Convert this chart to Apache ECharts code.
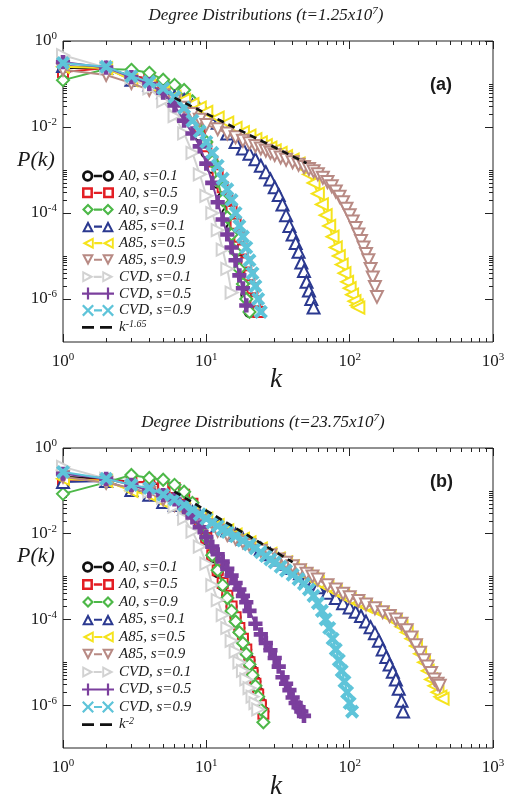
<!DOCTYPE html>
<html><head><meta charset="utf-8">
<script src="https://cdn.jsdelivr.net/npm/echarts@6/dist/echarts.min.js"></script>
<style>html,body{margin:0;padding:0;background:#fff}#c{width:510px;height:797px}</style>
</head><body><div id="c"></div>
<script>
// ---------- tick values ----------
const xMajorTicks = [1, 10, 100, 1000];
const xMinorTicks = [2,3,4,5,6,7,8,9,20,30,40,50,60,70,80,90,200,300,400,500,600,700,800,900];
const yMajorTicks = [1e-6, 1e-4, 1e-2, 1];
const yMinorTicks = [2e-6,3e-6,4e-6,5e-6,6e-6,7e-6,8e-6,9e-6,1e-5,2e-4,3e-4,4e-4,5e-4,6e-4,7e-4,8e-4,9e-4,1e-3,2e-2,3e-2,4e-2,5e-2,6e-2,7e-2,8e-2,9e-2,1e-1];

// ---------- legend names ----------
const seriesNames = ['A0, s=0.1','A0, s=0.5','A0, s=0.9','A85, s=0.1','A85, s=0.5','A85, s=0.9','CVD, s=0.1','CVD, s=0.5','CVD, s=0.9'];

// ---------- panel (a): t = 1.25x10^7 ----------
// integer-k series (k = 1, 2, 3, ...)
const pA_A0_01 = [2.34e-1,2.34e-1,1.51e-1,1.32e-1,1e-1,7.08e-2,3.98e-2,1.78e-2,6.31e-3,2.51e-3,1.12e-3,5.01e-4,2.24e-4,1e-4,4.47e-5,2.0e-5,7.94e-6,3.16e-6,1.26e-6,5.01e-7];
const pA_A0_05 = [1.91e-1,2.34e-1,1.51e-1,1.32e-1,1e-1,7.08e-2,4.47e-2,2.24e-2,8.91e-3,3.55e-3,1.58e-3,7.94e-4,3.98e-4,2.0e-4,1.12e-4,5.62e-5,2.82e-5,1.41e-5,7.08e-6,3.55e-6,1.78e-6,8.91e-7,5.01e-7];
const pA_A0_09 = [1.23e-1,2.24e-1,2.14e-1,1.82e-1,1.26e-1,9.55e-2,7.24e-2,3.98e-2,1.41e-2,4.47e-3,1.58e-3,5.62e-4,2.0e-4,7.94e-5,3.16e-5,1.26e-5,5.01e-6,2.24e-6,1e-6,5.01e-7];
const pA_CVD_01 = [4.68e-1,2.40e-1,1.41e-1,7.94e-2,3.98e-2,1.78e-2,7.08e-3,2.51e-3,7.94e-4,2.51e-4,1e-4,3.98e-5,1.41e-5,5.01e-6,1.41e-6];
const pA_CVD_05 = [3.24e-1,2.40e-1,1.45e-1,1e-1,6.31e-2,3.16e-2,1.41e-2,7.08e-3,3.55e-3,1.41e-3,5.01e-4,1.78e-4,7.08e-5,3.16e-5,1.58e-5,7.94e-6,3.55e-6,1.78e-6,7.08e-7];
const pA_CVD_09 = [3.09e-1,2.51e-1,1.51e-1,1.12e-1,7.94e-2,5.01e-2,2.82e-2,1.41e-2,7.94e-3,4.47e-3,2.51e-3,1.26e-3,6.31e-4,3.55e-4,2.0e-4,1e-4,5.01e-5,2.82e-5,1.58e-5,7.94e-6,3.98e-6,2.0e-6,1e-6,5.01e-7];
// sampled-k series
const kA_A85_01 = [1,2,3,4,5,6,7,8,9,10,12,14,16,18,20,22,24,26,28,30,32,34,36,38,40,42,44,46,48,50,52,54,56];
const pA_A85_01 = [2.63e-1,2.34e-1,1.26e-1,9.55e-2,6.46e-2,5.01e-2,4.27e-2,3.16e-2,2.51e-2,2.0e-2,1.26e-2,7.08e-3,4.47e-3,3.16e-3,2.40e-3,1.78e-3,1.26e-3,8.91e-4,6.03e-4,3.98e-4,2.63e-4,1.58e-4,8.91e-5,5.01e-5,3.16e-5,2.0e-5,1.26e-5,7.08e-6,4.47e-6,2.51e-6,1.58e-6,1e-6,6.31e-7];
const kA_A85_05 = [1,2,3,4,5,6,7,8,9,10,12,14,16,18,20,22,24,26,28,30,33,36,40,44,48,52,56,60,64,68,72,76,80,84,88,92,96,100,104,108,112,115];
const pA_A85_05 = [2.51e-1,2.34e-1,1.23e-1,9.55e-2,6.46e-2,5.01e-2,4.27e-2,3.39e-2,2.82e-2,2.24e-2,1.66e-2,1.26e-2,9.55e-3,7.59e-3,6.31e-3,5.25e-3,4.37e-3,3.80e-3,3.31e-3,2.88e-3,2.51e-3,2.09e-3,1.74e-3,1.41e-3,1.10e-3,7.94e-4,5.01e-4,2.82e-4,1.58e-4,8.91e-5,5.01e-5,2.82e-5,1.58e-5,1e-5,6.31e-6,3.98e-6,2.51e-6,1.78e-6,1.26e-6,8.91e-7,7.08e-7,6.31e-7];
const kA_A85_09 = [1,2,3,4,5,6,7,8,9,10,12,14,16,18,20,22,24,26,28,30,33,36,40,44,48,52,56,60,65,70,75,80,85,90,95,100,105,110,115,120,125,130,135,140,145,150,155];
const pA_A85_09 = [2.14e-1,1.62e-1,1.05e-1,7.24e-2,5.50e-2,3.98e-2,2.82e-2,2.0e-2,1.48e-2,1.12e-2,8.91e-3,7.08e-3,5.75e-3,4.79e-3,4.17e-3,3.63e-3,3.16e-3,2.82e-3,2.51e-3,2.24e-3,1.95e-3,1.74e-3,1.51e-3,1.32e-3,1.17e-3,1.05e-3,9.33e-4,7.94e-4,6.61e-4,5.25e-4,4.17e-4,3.16e-4,2.40e-4,1.78e-4,1.26e-4,8.91e-5,6.31e-5,4.47e-5,3.16e-5,2.24e-5,1.58e-5,1.12e-5,7.94e-6,5.01e-6,3.16e-6,1.91e-6,1.12e-6];
const kA_fit = [6, 50];
const pA_fit = [4.76e-2, 1.44e-3];

// ---------- panel (b): t = 23.75x10^7 ----------
const pB_A0_01 = [2.14e-1,1.91e-1,1.62e-1,1.58e-1,1.32e-1,1.12e-1,7.94e-2,4.47e-2,1.78e-2,7.08e-3,2.82e-3,1.26e-3,6.31e-4,3.55e-4,2.0e-4,1.12e-4,6.31e-5,3.55e-5,2.0e-5,1.12e-5,6.31e-6,3.55e-6,2.0e-6,1.12e-6,7.08e-7];
const pB_A0_05 = [1.82e-1,1.82e-1,1.62e-1,1.62e-1,1.38e-1,1.17e-1,8.13e-2,5.01e-2,2.0e-2,7.94e-3,3.16e-3,1.41e-3,7.08e-4,3.55e-4,2.0e-4,1.12e-4,6.31e-5,3.55e-5,2.0e-5,1e-5,5.62e-6,3.16e-6,1.78e-6,1e-6,6.31e-7];
const pB_A0_09 = [8.51e-2,1.58e-1,2.34e-1,2.0e-1,1.82e-1,1.38e-1,9.55e-2,5.25e-2,2.0e-2,7.94e-3,3.16e-3,1.41e-3,6.31e-4,3.16e-4,1.58e-4,8.91e-5,5.01e-5,2.82e-5,1.58e-5,8.91e-6,5.01e-6,2.82e-6,1.58e-6,7.94e-7,3.98e-7];
const pB_CVD_01 = [3.63e-1,1.91e-1,1.38e-1,9.55e-2,6.92e-2,4.27e-2,2.24e-2,1.12e-2,5.01e-3,2.0e-3,6.31e-4,2.82e-4,1.26e-4,6.31e-5,3.16e-5,1.78e-5,1e-5,6.31e-6,3.98e-6,2.51e-6,1.58e-6,1.12e-6,7.94e-7];
const kB_A85_01 = [1,2,3,4,5,6,7,8,9,10,12,14,16,18,20,24,28,32,36,40,45,50,55,60,70,80,90,100,110,120,130,140,150,160,170,180,190,200,210,220,230,236];
const pB_A85_01 = [1.62e-1,1.70e-1,1.05e-1,8.13e-2,5.50e-2,4.68e-2,3.80e-2,3.16e-2,2.63e-2,2.24e-2,1.58e-2,1.20e-2,9.55e-3,7.59e-3,6.31e-3,4.47e-3,3.31e-3,2.51e-3,2.0e-3,1.58e-3,1.20e-3,8.91e-4,6.76e-4,5.62e-4,4.17e-4,3.16e-4,2.40e-4,1.91e-4,1.51e-4,1.20e-4,8.91e-5,6.61e-5,4.79e-5,3.16e-5,2.0e-5,1.32e-5,8.91e-6,6.03e-6,3.98e-6,2.40e-6,1.26e-6,7.08e-7];
const kB_A85_05 = [1,2,3,4,5,6,7,8,9,10,12,14,16,18,20,24,28,32,36,40,45,50,55,60,70,80,90,100,115,130,150,170,190,210,230,250,270,290,310,330,350,370,390,410,430,445];
const pB_A85_05 = [1.91e-1,1.70e-1,1e-1,8.13e-2,5.50e-2,4.68e-2,3.80e-2,3.16e-2,2.63e-2,2.24e-2,1.58e-2,1.20e-2,9.55e-3,7.59e-3,6.31e-3,4.47e-3,3.39e-3,2.63e-3,2.14e-3,1.74e-3,1.35e-3,1.07e-3,8.71e-4,7.41e-4,5.62e-4,4.47e-4,3.55e-4,2.95e-4,2.40e-4,2.0e-4,1.66e-4,1.38e-4,1.12e-4,8.91e-5,6.76e-5,5.01e-5,3.55e-5,2.40e-5,1.58e-5,1e-5,6.31e-6,3.98e-6,2.82e-6,2.0e-6,1.58e-6,1.41e-6];
const kB_A85_09 = [1,2,3,4,5,6,7,8,9,10,12,14,16,18,20,24,28,32,36,40,45,50,55,60,70,80,90,100,115,130,150,170,190,210,230,250,270,290,310,330,350,370,390,410,425];
const pB_A85_09 = [2.14e-1,1.55e-1,1.17e-1,8.91e-2,6.31e-2,4.68e-2,3.55e-2,2.63e-2,2.0e-2,1.58e-2,1.17e-2,9.33e-3,7.59e-3,6.31e-3,5.37e-3,3.98e-3,3.16e-3,2.51e-3,2.09e-3,1.74e-3,1.41e-3,1.17e-3,1e-3,8.51e-4,6.31e-4,5.01e-4,3.98e-4,3.31e-4,2.69e-4,2.24e-4,1.82e-4,1.48e-4,1.20e-4,1e-4,7.94e-5,5.62e-5,3.80e-5,2.51e-5,1.66e-5,1.12e-5,7.94e-6,5.62e-6,3.98e-6,3.16e-6,2.82e-6];
const kB_CVD_05 = [1,2,3,4,5,6,7,8,9,10,11,12,13,14,15,16,17,18,19,20,22,24,26,28,30,32,34,36,38,40,42,44,46,48];
const pB_CVD_05 = [2.51e-1,1.91e-1,1.38e-1,1e-1,7.94e-2,6.31e-2,4.17e-2,2.40e-2,1.41e-2,8.32e-3,5.01e-3,3.31e-3,2.24e-3,1.51e-3,1.05e-3,7.08e-4,5.01e-4,3.55e-4,2.51e-4,1.58e-4,7.94e-5,4.47e-5,2.82e-5,1.91e-5,1.26e-5,7.94e-6,4.47e-6,3.16e-6,2.24e-6,1.51e-6,1.12e-6,8.91e-7,7.08e-7,5.62e-7];
const kB_CVD_09 = [1,2,3,4,5,6,7,8,9,10,11,12,13,14,16,18,20,22,24,26,28,30,33,36,40,44,48,52,56,60,64,68,72,76,80,84,88,92,96,100,104];
const pB_CVD_09 = [2.75e-1,1.91e-1,1.38e-1,1.17e-1,8.13e-2,6.31e-2,4.68e-2,3.63e-2,2.82e-2,2.24e-2,1.82e-2,1.51e-2,1.26e-2,1.10e-2,8.71e-3,6.92e-3,5.62e-3,4.57e-3,3.72e-3,3.02e-3,2.51e-3,2.14e-3,1.70e-3,1.38e-3,1.10e-3,8.71e-4,6.76e-4,5.01e-4,3.55e-4,2.40e-4,1.58e-4,1e-4,6.31e-5,3.55e-5,2.0e-5,1.12e-5,6.31e-6,3.55e-6,2.0e-6,1.12e-6,7.08e-7];
const kB_fit = [6, 40];
const pB_fit = [9.6e-2, 2.17e-3];

// ---------- styles ----------
const PLUS = 'path://M4,0H6V4H10V6H6V10H4V6H0V4H4Z';
const CROSS = 'path://M1.2,0L5,3.8L8.8,0L10,1.2L6.2,5L10,8.8L8.8,10L5,6.2L1.2,10L0,8.8L3.8,5L0,1.2Z';
const looks = [
  {color:'#111111', symbol:'emptyCircle', size:10, rot:0, icon:'circle'},
  {color:'#e31e24', symbol:'emptyRect', size:10, rot:0, icon:'rect'},
  {color:'#4db848', symbol:'emptyDiamond', size:12, rot:0, icon:'diamond'},
  {color:'#2b3990', symbol:'emptyTriangle', size:12, rot:0, icon:'triUp'},
  {color:'#f5e31c', symbol:'emptyTriangle', size:12, rot:90, icon:'triLeft'},
  {color:'#b88a84', symbol:'emptyTriangle', size:12, rot:180, icon:'triDown'},
  {color:'#d2d2d2', symbol:'emptyTriangle', size:12, rot:-90, icon:'triRight'},
  {color:'#7b3f9d', symbol:PLUS, size:12, rot:0, icon:'plus'},
  {color:'#5ec4d9', symbol:CROSS, size:11, rot:0, icon:'cross'}
];
const serif = '"Liberation Serif", "DejaVu Serif", serif';

// legend icon: line with a hollow marker at both ends (12x12 marker boxes in a 32x12 icon)
const iconShapes = {
  circle:   o => `M${o+0.5},6 A5.5,5.5 0 1 1 ${o+11.5},6 A5.5,5.5 0 1 1 ${o+0.5},6 Z M${o+3.2},6 A2.8,2.8 0 1 0 ${o+8.8},6 A2.8,2.8 0 1 0 ${o+3.2},6 Z`,
  rect:     o => `M${o+0.8},0.8 H${o+11.2} V11.2 H${o+0.8} Z M${o+3.2},3.2 V8.8 H${o+8.8} V3.2 Z`,
  diamond:  o => `M${o+6},0 L${o+12},6 L${o+6},12 L${o},6 Z M${o+6},3 L${o+3},6 L${o+6},9 L${o+9},6 Z`,
  triUp:    o => `M${o+6},0 L${o+12},11.5 L${o},11.5 Z M${o+6},4.6 L${o+3.3},9.6 L${o+8.7},9.6 Z`,
  triLeft:  o => `M${o},6 L${o+11.5},0 L${o+11.5},12 Z M${o+4.6},6 L${o+9.6},8.7 L${o+9.6},3.3 Z`,
  triDown:  o => `M${o},0.5 L${o+12},0.5 L${o+6},12 Z M${o+3.3},2.4 L${o+6},7.4 L${o+8.7},2.4 Z`,
  triRight: o => `M${o+0.5},0 L${o+12},6 L${o+0.5},12 Z M${o+2.4},3.3 L${o+2.4},8.7 L${o+7.4},6 Z`,
  plus:     o => `M${o+4.9},0 H${o+7.1} V4.9 H${o+12} V7.1 H${o+7.1} V12 H${o+4.9} V7.1 H${o} V4.9 H${o+4.9} Z`,
  cross:    o => `M${o+1.6},0 L${o+6},4.4 L${o+10.4},0 L${o+12},1.6 L${o+7.6},6 L${o+12},10.4 L${o+10.4},12 L${o+6},7.6 L${o+1.6},12 L${o},10.4 L${o+4.4},6 L${o},1.6 Z`
};
function legendIcon(shape){
  return 'path://' + iconShapes[shape](0) + ' ' + iconShapes[shape](20) + ' M12,4.9 H20 V7.1 H12 Z';
}
const DASH_ICON = 'path://M0,0 L0,0 M0,4.7 H12 V7.5 H0 Z M18,4.7 H30 V7.5 H18 Z M32,12 L32,12';

function seq(n){ const a=[]; for(let i=1;i<=n;i++) a.push(i); return a; }
function zip(ks, ps){ return ks.map((k,i)=>[k, ps[i]]); }

const panelData = {
  a: [zip(seq(pA_A0_01.length),pA_A0_01), zip(seq(pA_A0_05.length),pA_A0_05), zip(seq(pA_A0_09.length),pA_A0_09),
      zip(kA_A85_01,pA_A85_01), zip(kA_A85_05,pA_A85_05), zip(kA_A85_09,pA_A85_09),
      zip(seq(pA_CVD_01.length),pA_CVD_01), zip(seq(pA_CVD_05.length),pA_CVD_05), zip(seq(pA_CVD_09.length),pA_CVD_09)],
  b: [zip(seq(pB_A0_01.length),pB_A0_01), zip(seq(pB_A0_05.length),pB_A0_05), zip(seq(pB_A0_09.length),pB_A0_09),
      zip(kB_A85_01,pB_A85_01), zip(kB_A85_05,pB_A85_05), zip(kB_A85_09,pB_A85_09),
      zip(seq(pB_CVD_01.length),pB_CVD_01), zip(kB_CVD_05,pB_CVD_05), zip(kB_CVD_09,pB_CVD_09)]
};
const fitData = { a: zip(kA_fit,pA_fit), b: zip(kB_fit,pB_fit) };
const fitLabel = { a: '-1.65', b: '-2' };

const series = [];
const legendItems = {a: [], b: []};
['a','b'].forEach((p, gi) => {
  panelData[p].forEach((d, i) => {
    const L = looks[i];
    const name = p + '|' + seriesNames[i];
    series.push({
      type:'line', name: name, xAxisIndex: gi*4, yAxisIndex: gi*4,
      data: d, symbol: L.symbol, symbolSize: L.size, symbolRotate: L.rot, showAllSymbol: true,
      lineStyle: {color: L.color, width: 2},
      itemStyle: {color: L.color, borderColor: L.color, borderWidth: 2.2},
      animation: false, z: 2 + i * 0.01
    });
    legendItems[p].push({name: name, icon: legendIcon(L.icon), itemStyle: {color: L.color, borderWidth: 0, opacity: 1}});
  });
  series.push({
    type:'line', name: p + '|fit', xAxisIndex: gi*4, yAxisIndex: gi*4, data: fitData[p],
    symbol:'none', lineStyle:{color:'#111', width:2.6, type:[7,5]}, itemStyle:{color:'#111'},
    animation:false, z: 3
  });
  legendItems[p].push({name: p + '|fit', icon: DASH_ICON, itemStyle: {color:'#111', borderWidth: 0, opacity: 1}});
});

const grids = [
  {left:63, top:41, width:430, height:301},
  {left:63, top:448, width:430, height:300}
];

const supRich = {
  b:{fontFamily:serif, fontSize:17, color:'#1a1a1a', lineHeight:20},
  s:{fontFamily:serif, fontSize:11, color:'#1a1a1a', verticalAlign:'top', lineHeight:12}
};
function powLabel(v){ const e = Math.round(Math.log10(v)); return '{b|10}{s|' + e + '}'; }

const xAxes = [], yAxes = [];
[0,1].forEach(gi => {
  const base = {type:'log', logBase:10, gridIndex:gi, min:1, max:1000, splitLine:{show:false}, axisLine:{show:false}};
  xAxes.push(Object.assign({}, base, {position:'bottom',
    axisTick:{show:true, inside:true, length:8, customValues:xMajorTicks, lineStyle:{color:'#222'}},
    axisLabel:{show:true, customValues:xMajorTicks, margin:10, formatter:powLabel, rich:supRich}}));
  xAxes.push(Object.assign({}, base, {position:'top',
    axisTick:{show:true, inside:true, length:8, customValues:xMajorTicks, lineStyle:{color:'#222'}}, axisLabel:{show:false}}));
  xAxes.push(Object.assign({}, base, {position:'bottom',
    axisTick:{show:true, inside:true, length:4, customValues:xMinorTicks, lineStyle:{color:'#222'}}, axisLabel:{show:false}}));
  xAxes.push(Object.assign({}, base, {position:'top',
    axisTick:{show:true, inside:true, length:4, customValues:xMinorTicks, lineStyle:{color:'#222'}}, axisLabel:{show:false}}));
  const ybase = {type:'log', logBase:10, gridIndex:gi, min:1e-7, max:1, splitLine:{show:false}, axisLine:{show:false}};
  yAxes.push(Object.assign({}, ybase, {position:'left',
    axisTick:{show:true, inside:true, length:8, customValues:yMajorTicks, lineStyle:{color:'#222'}},
    axisLabel:{show:true, customValues:yMajorTicks, margin:6, formatter:powLabel, rich:supRich}}));
  yAxes.push(Object.assign({}, ybase, {position:'right',
    axisTick:{show:true, inside:true, length:8, customValues:yMajorTicks, lineStyle:{color:'#222'}}, axisLabel:{show:false}}));
  yAxes.push(Object.assign({}, ybase, {position:'left',
    axisTick:{show:true, inside:true, length:4, customValues:yMinorTicks, lineStyle:{color:'#222'}}, axisLabel:{show:false}}));
  yAxes.push(Object.assign({}, ybase, {position:'right',
    axisTick:{show:true, inside:true, length:4, customValues:yMinorTicks, lineStyle:{color:'#222'}}, axisLabel:{show:false}}));
});

const legendRich = {
  k:{fontFamily:serif, fontStyle:'italic', fontSize:15, color:'#1a1a1a', lineHeight:16},
  s:{fontFamily:serif, fontStyle:'italic', fontSize:10, color:'#1a1a1a', verticalAlign:'top', lineHeight:10}
};
function legendFmt(name){
  const parts = name.split('|');
  if (parts[1] === 'fit') return '{k|k}{s|' + fitLabel[parts[0]] + '}';
  return parts[1];
}
function legendFor(p, top, gap){
  return {
    data: legendItems[p],
    orient:'vertical', left:77, top:top, itemWidth:32, itemHeight:12, itemGap:gap,
    selectedMode:false, formatter: legendFmt,
    textStyle:{fontFamily:serif, fontStyle:'italic', fontSize:15, color:'#1a1a1a', lineHeight:16, rich: legendRich}
  };
}

const titleRich = {
  t:{fontFamily:serif, fontStyle:'italic', fontWeight:'normal', fontSize:17, fill:'#1a1a1a', lineHeight:20},
  s:{fontFamily:serif, fontStyle:'italic', fontWeight:'normal', fontSize:11, fill:'#1a1a1a', verticalAlign:'top', lineHeight:11}
};

const option = {
  backgroundColor:'#fff',
  animation:false,
  grid: grids.map(g => Object.assign({show:true, borderColor:'#222', borderWidth:1, backgroundColor:'transparent'}, g)),
  xAxis: xAxes, yAxis: yAxes,
  legend:[legendFor('a', 163, 0.8), legendFor('b', 554, 1.5)],
  graphic:[
    {type:'text', x:266, y:16, style:{text:'{t|Degree Distributions (t=1.25x10}{s|7}{t|)}', rich:titleRich, align:'center', verticalAlign:'middle'}},
    {type:'text', x:263, y:423, style:{text:'{t|Degree Distributions (t=23.75x10}{s|7}{t|)}', rich:titleRich, align:'center', verticalAlign:'middle'}},
    {type:'text', left:17, top:149, style:{text:'P(k)', font:'italic 22px "Liberation Serif"', fill:'#1a1a1a'}},
    {type:'text', left:17, top:545, style:{text:'P(k)', font:'italic 22px "Liberation Serif"', fill:'#1a1a1a'}},
    {type:'text', left:270, top:366, style:{text:'k', font:'italic 27px "Liberation Serif"', fill:'#1a1a1a'}},
    {type:'text', left:270, top:773, style:{text:'k', font:'italic 27px "Liberation Serif"', fill:'#1a1a1a'}},
    {type:'text', left:430, top:76, style:{text:'(a)', font:'bold 18px "Liberation Sans"', fill:'#1a1a1a'}},
    {type:'text', left:430, top:473, style:{text:'(b)', font:'bold 18px "Liberation Sans"', fill:'#1a1a1a'}}
  ],
  series: series
};

const chart = echarts.init(document.getElementById('c'), null, {renderer:'canvas'});
chart.setOption(option);
</script>
</body></html>
